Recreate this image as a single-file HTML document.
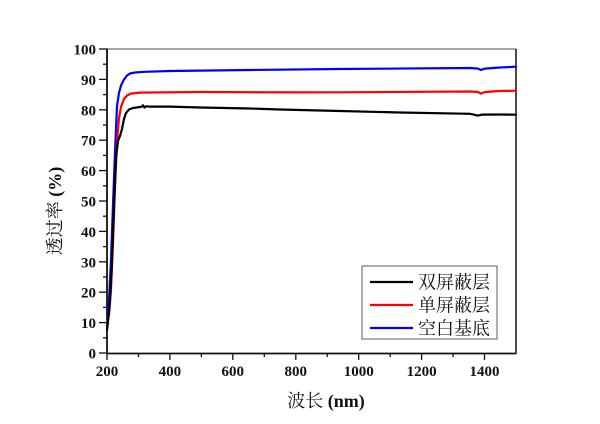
<!DOCTYPE html>
<html><head><meta charset="utf-8">
<style>
html,body{margin:0;padding:0;background:#fff;}
svg{display:block;}
.t{font-family:"Liberation Serif","Noto Serif CJK SC",serif;font-weight:bold;font-size:15px;fill:#111;}
.c{font-family:"Liberation Serif","Noto Serif CJK SC","Noto Sans CJK SC",serif;font-size:18px;fill:#111;}
</style></head>
<body>
<svg width="600" height="424" viewBox="0 0 600 424" xmlns="http://www.w3.org/2000/svg">
<rect width="600" height="424" fill="#fff"/>
<!-- frame -->
<line x1="107" y1="49" x2="516" y2="49" stroke="#888" stroke-width="1.5"/>
<line x1="516" y1="49" x2="516" y2="353" stroke="#111" stroke-width="1.5"/>
<line x1="107" y1="48.5" x2="107" y2="353.5" stroke="#111" stroke-width="1.8"/>
<line x1="106" y1="353.5" x2="516.5" y2="353.5" stroke="#111" stroke-width="1.8"/>
<!-- y ticks -->
<g stroke="#111" stroke-width="1.3">
<line x1="99" y1="49" x2="107" y2="49"/><line x1="103" y1="64.2" x2="107" y2="64.2"/>
<line x1="99" y1="79.4" x2="107" y2="79.4"/><line x1="103" y1="94.6" x2="107" y2="94.6"/>
<line x1="99" y1="109.8" x2="107" y2="109.8"/><line x1="103" y1="125" x2="107" y2="125"/>
<line x1="99" y1="140.2" x2="107" y2="140.2"/><line x1="103" y1="155.4" x2="107" y2="155.4"/>
<line x1="99" y1="170.6" x2="107" y2="170.6"/><line x1="103" y1="185.8" x2="107" y2="185.8"/>
<line x1="99" y1="201" x2="107" y2="201"/><line x1="103" y1="216.2" x2="107" y2="216.2"/>
<line x1="99" y1="231.4" x2="107" y2="231.4"/><line x1="103" y1="246.6" x2="107" y2="246.6"/>
<line x1="99" y1="261.8" x2="107" y2="261.8"/><line x1="103" y1="277" x2="107" y2="277"/>
<line x1="99" y1="292.2" x2="107" y2="292.2"/><line x1="103" y1="307.4" x2="107" y2="307.4"/>
<line x1="99" y1="322.6" x2="107" y2="322.6"/><line x1="103" y1="337.8" x2="107" y2="337.8"/>
<line x1="99" y1="353" x2="107" y2="353"/>
</g>
<!-- x ticks -->
<g stroke="#111" stroke-width="1.3">
<line x1="107" y1="353" x2="107" y2="360"/><line x1="138.5" y1="353" x2="138.5" y2="357"/>
<line x1="169.9" y1="353" x2="169.9" y2="360"/><line x1="201.4" y1="353" x2="201.4" y2="357"/>
<line x1="232.8" y1="353" x2="232.8" y2="360"/><line x1="264.3" y1="353" x2="264.3" y2="357"/>
<line x1="295.8" y1="353" x2="295.8" y2="360"/><line x1="327.2" y1="353" x2="327.2" y2="357"/>
<line x1="358.7" y1="353" x2="358.7" y2="360"/><line x1="390.2" y1="353" x2="390.2" y2="357"/>
<line x1="421.6" y1="353" x2="421.6" y2="360"/><line x1="453.1" y1="353" x2="453.1" y2="357"/>
<line x1="484.5" y1="353" x2="484.5" y2="360"/>
</g>
<!-- y labels -->
<g class="t" text-anchor="end">
<text x="96" y="54.5">100</text><text x="96" y="84.9">90</text><text x="96" y="115.3">80</text>
<text x="96" y="145.7">70</text><text x="96" y="176.1">60</text><text x="96" y="206.5">50</text>
<text x="96" y="236.9">40</text><text x="96" y="267.3">30</text><text x="96" y="297.7">20</text>
<text x="96" y="328.1">10</text><text x="96" y="358.5">0</text>
</g>
<!-- x labels -->
<g class="t" text-anchor="middle">
<text x="107" y="376">200</text><text x="169.9" y="376">400</text><text x="232.8" y="376">600</text>
<text x="295.8" y="376">800</text><text x="358.7" y="376">1000</text><text x="421.6" y="376">1200</text>
<text x="484.5" y="376">1400</text>
</g>
<!-- axis titles -->
<text class="c" x="326" y="407" text-anchor="middle">波长 <tspan font-weight="bold">(nm)</tspan></text>
<text class="c" transform="translate(61,211) rotate(-90)" text-anchor="middle">透过率 <tspan font-weight="bold">(%)</tspan></text>
<!-- curves -->
<g fill="none" stroke-width="2.2" stroke-linejoin="round" stroke-linecap="round">
<polyline stroke="#0000ff" points="107.5,316 109,300 111,260 113,205 115,152 117,106 119,93 121,85.5 124,79.5 127,75.5 130,73.5 135,72.5 145,71.8 170,71 250,70 340,69 470,68 478,68.6 481,70 485,68.6 500,67.5 516,66.7"/>
<polyline stroke="#ff0000" points="107.5,322 109,315 111,290 113,242 115,188 117,142 119,118 121,107 124,99 127,95.5 131,93.6 140,92.6 200,92 300,92.4 340,92.3 470,91.5 478,92 481,93.6 485,92 500,91 516,90.7"/>
<polyline stroke="#000000" points="107,330 108,322 110,300 112,262 114,205 116,158 118,141 120,136 122,129 124,119 126,113 129,109.5 133,108 140,107 142,106.5 143,105.3 144.5,107.6 146,106.3 150,106.6 170,106.6 200,107.5 250,108.5 280,109.5 340,111 400,112.5 470,113.8 478,115.6 482,114.6 500,114.5 516,114.7"/>
</g>
<!-- legend -->
<rect x="362" y="266" width="135" height="73" fill="#fff" stroke="#777" stroke-width="1.2"/>
<g stroke-width="2.2">
<line x1="370" y1="282" x2="413" y2="282" stroke="#000"/>
<line x1="370" y1="305" x2="413" y2="305" stroke="#ff0000"/>
<line x1="370" y1="328" x2="413" y2="328" stroke="#0000ff"/>
</g>
<g class="c" style="font-size:18px">
<text x="418" y="288.5">双屏蔽层</text>
<text x="418" y="311.5">单屏蔽层</text>
<text x="418" y="334.5">空白基底</text>
</g>
</svg>
</body></html>
